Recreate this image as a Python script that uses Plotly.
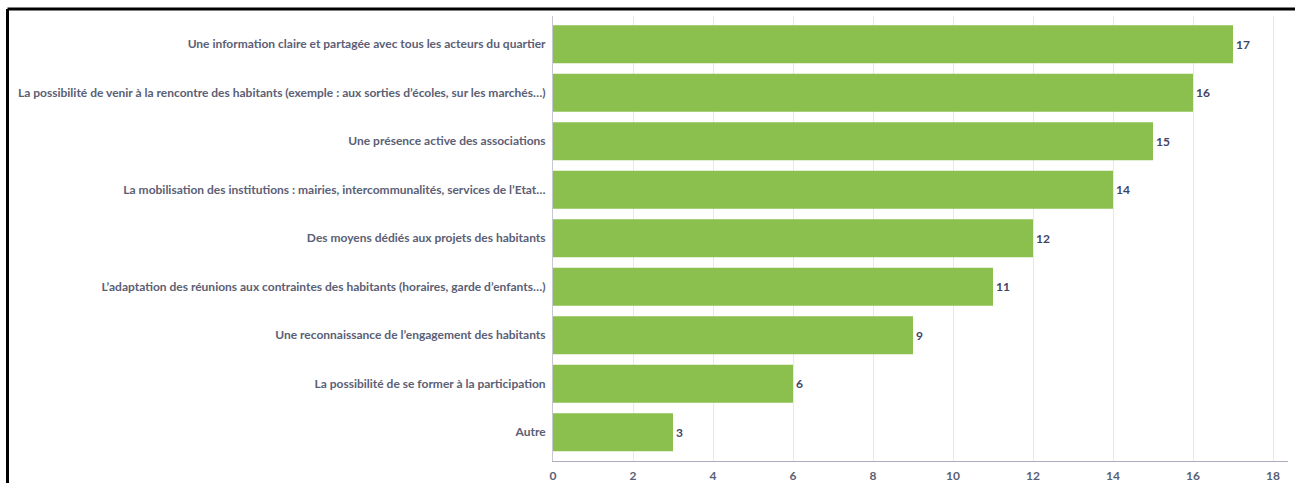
import plotly.graph_objects as go

categories = [
    "Une information claire et partagée avec tous les acteurs du quartier",
    "La possibilité de venir à la rencontre des habitants (exemple : aux sorties d’écoles, sur les marchés…)",
    "Une présence active des associations",
    "La mobilisation des institutions : mairies, intercommunalités, services de l’Etat…",
    "Des moyens dédiés aux projets des habitants",
    "L’adaptation des réunions aux contraintes des habitants (horaires, garde d’enfants…)",
    "Une reconnaissance de l’engagement des habitants",
    "La possibilité de se former à la participation",
    "Autre",
]
values = [17, 16, 15, 14, 12, 11, 9, 6, 3]
x_ticks = [0, 2, 4, 6, 8, 10, 12, 14, 16, 18]

W, H = 1295, 483
L, R, T, B = 553, 1288, 16, 461

fig = go.Figure(
    go.Bar(
        y=categories[::-1],
        x=values[::-1],
        orientation="h",
        marker=dict(color="#8bc04f", line=dict(width=0)),
        text=[str(v) for v in values[::-1]],
        textposition="outside",
        cliponaxis=False,
        textfont=dict(family="Lato", size=12, color="#3f4566", weight="bold"),
        width=0.78,
        hoverinfo="x+y",
    )
)

fig.update_layout(
    width=W,
    height=H,
    margin=dict(l=L, r=W - R, t=T, b=H - B, pad=0, autoexpand=False),
    plot_bgcolor="white",
    paper_bgcolor="white",
    showlegend=False,
    font=dict(family="Lato", size=12, color="#5b6075", weight="bold"),
    xaxis=dict(
        range=[0, 18.375],
        tickvals=x_ticks,
        automargin=False,
        showgrid=True,
        gridcolor="#e8e8ec",
        gridwidth=1,
        zeroline=False,
        showline=True,
        linecolor="#a9adbc",
        linewidth=1,
        ticks="",
        ticklabelstandoff=4,
        tickfont=dict(family="Lato", size=12, color="#5b6075", weight="bold"),
        fixedrange=True,
    ),
    yaxis=dict(
        range=[-0.593, 8.582],
        automargin=False,
        showgrid=False,
        zeroline=False,
        showline=True,
        linecolor="#c5c8d2",
        linewidth=1,
        ticks="",
        ticklabelstandoff=4,
        tickfont=dict(family="Lato", size=12, color="#5b6075", weight="bold"),
        fixedrange=True,
    ),
)

# Black frame around the chart (top and left edges visible in the crop)
def px_x(px):
    return (px - L) / (R - L)

def px_y(py):
    return (B - py) / (B - T)

fig.add_shape(type="line", xref="paper", yref="paper",
              x0=px_x(7.5), x1=px_x(W + 5), y0=px_y(9), y1=px_y(9),
              line=dict(color="black", width=3))
fig.add_shape(type="line", xref="paper", yref="paper",
              x0=px_x(7.5), x1=px_x(7.5), y0=px_y(9), y1=px_y(H + 5),
              line=dict(color="black", width=3))

fig.write_html(
    "out.html",
    config={"displayModeBar": False},
    post_script="document.body.style.margin='0';document.body.style.overflow='hidden';",
)
